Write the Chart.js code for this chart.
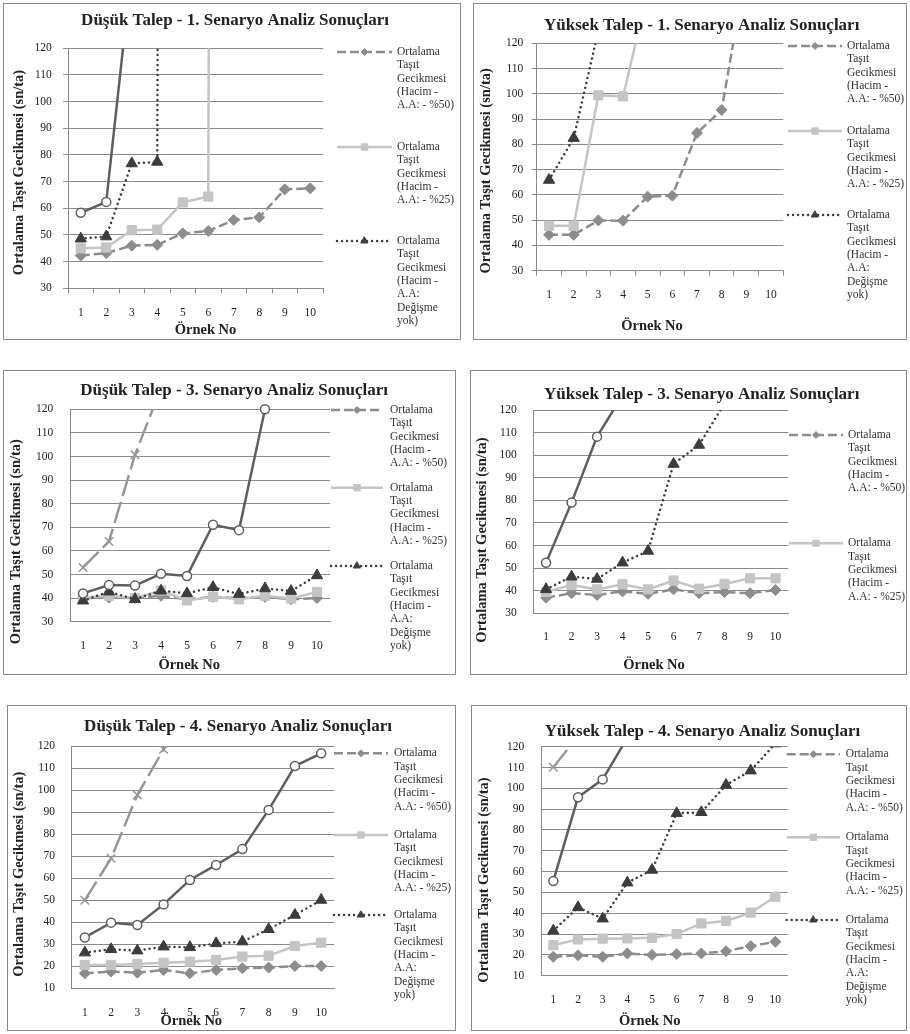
<!DOCTYPE html>
<html><head><meta charset="utf-8">
<script src="https://cdn.jsdelivr.net/npm/chart.js@4.4.1/dist/chart.umd.min.js"></script>
<style>
html,body{margin:0;padding:0;background:#fff;}
body{width:910px;height:1034px;position:relative;overflow:hidden;}
.panel{position:absolute;border:1px solid #8a8a8a;box-sizing:border-box;background:#fff;}
.panel canvas{position:absolute;left:0;top:0;}
</style></head><body>
<script>
// ---------- DATA ----------
const categories = ['1','2','3','4','5','6','7','8','9','10'];
const yTitleText = 'Ortalama Taşıt Gecikmesi (sn/ta)';
const xTitleText = 'Örnek No';
const chartTitles = [
  'Düşük Talep - 1. Senaryo Analiz Sonuçları',
  'Yüksek Talep - 1. Senaryo Analiz Sonuçları',
  'Düşük Talep - 3. Senaryo Analiz Sonuçları',
  'Yüksek Talep - 3. Senaryo Analiz Sonuçları',
  'Düşük Talep - 4. Senaryo Analiz Sonuçları',
  'Yüksek Talep - 4. Senaryo Analiz Sonuçları'
];
const legend50 = ['Ortalama','Taşıt','Gecikmesi','(Hacim -','A.A: - %50)'];
const legend25 = ['Ortalama','Taşıt','Gecikmesi','(Hacim -','A.A: - %25)'];
const legend0  = ['Ortalama','Taşıt','Gecikmesi','(Hacim -','A.A:','Değişme','yok)'];
const label50 = 'Ortalama Taşıt Gecikmesi (Hacim - A.A: - %50)';
const label25 = 'Ortalama Taşıt Gecikmesi (Hacim - A.A: - %25)';
const label0  = 'Ortalama Taşıt Gecikmesi (Hacim - A.A: Değişme yok)';

// Düşük Talep - 1
const d1_diamond  = [42.3, 43.2, 46, 46.3, 50.6, 51.5, 55.6, 56.6, 67.1, 67.5];
const d1_square   = [45, 45.3, 51.8, 52, 62.2, 64.4, 3000, null, null, null];
const d1_triangle = [48.6, 49.4, 76.8, 77.4, 3000, null, null, null, null, null];
const d1_circle   = [58.3, 62.4, 150, null, null, null, null, null, null, null];
// Yüksek Talep - 1
const y1_diamond  = [44.2, 44.2, 49.9, 49.8, 59.3, 59.7, 84.5, 93.6, 150, null];
const y1_square   = [47.8, 47.8, 99.4, 99, 140, null, null, null, null, null];
const y1_triangle = [65.9, 82.5, 125, null, null, null, null, null, null, null];
// Düşük Talep - 3
const d3_cross    = [53, 64, 100.7, 129, null, null, null, null, null, null];
const d3_circle   = [42, 45.5, 45.3, 50.3, 49.4, 71.1, 68.8, 120, null, null];
const d3_triangle = [38.9, 42.7, 39.5, 43.1, 42, 44.6, 41.7, 44.1, 43, 49.6];
const d3_square   = [40.3, 41, 40, 43.2, 39, 40.6, 39.5, 41, 39.8, 42.6];
const d3_diamond  = [40, 40.2, 40, 41, 39.5, 40.5, 40, 40.5, 39.5, 40];
// Yüksek Talep - 3
const y3_circle   = [52.4, 79, 108.2, 126.5, null, null, null, null, null, null];
const y3_triangle = [40.6, 46.2, 45.2, 52.4, 57.6, 96.1, 104.5, 123, null, null];
const y3_square   = [39.5, 42.5, 40.6, 42.8, 40.6, 44.5, 40.9, 43, 45.5, 45.5];
const y3_diamond  = [36.9, 38.9, 38.1, 39.7, 38.6, 40.6, 38.9, 39.4, 38.9, 40.3];
// Düşük Talep - 4
const d4_cross    = [50, 69, 97.8, 118.5, 140, null, null, null, null, null];
const d4_circle   = [33.1, 39.8, 38.7, 48.1, 59.2, 66, 73.2, 91, 110.9, 116.7];
const d4_triangle = [26.2, 27.7, 27.1, 28.9, 28.6, 30.4, 31.2, 36.8, 43.3, 50.1];
const d4_square   = [20.6, 20.6, 21, 21.6, 22.1, 22.9, 24.4, 24.8, 29.2, 30.7];
const d4_diamond  = [16.8, 17.6, 17.1, 18.3, 16.8, 18.3, 19.1, 19.4, 20.1, 20.1];
// Yüksek Talep - 4
const y4_cross    = [110.1, 125, null, null, null, null, null, null, null, null];
const y4_circle   = [55.5, 95.7, 104.3, 124.3, null, null, null, null, null, null];
const y4_triangle = [31.6, 42.8, 37.4, 54.7, 60.8, 88, 88.5, 101.6, 108.5, 121.5];
const y4_square   = [24.7, 27.4, 27.8, 27.9, 28.2, 30, 35.1, 36.3, 40.3, 47.9];
const y4_diamond  = [19.1, 19.8, 19.1, 20.7, 20, 20.4, 20.7, 21.8, 24.2, 26.3];

// ---------- STYLES ----------
const FAMILY = '"Liberation Serif", "Times New Roman", serif';
const TEXT = '#222222';
const GRID = '#8a8a8a';
const styles = {
  diamond:  {color:'#8c8c8c', dash:[9,4],  cap:'butt',  ps:'rectRot',  r:5.5, lr:3.5, fill:'#8c8c8c', border:'#8c8c8c', bw:1},
  square:   {color:'#c4c4c4', dash:[],     cap:'butt',  ps:'rect',     r:6.5, lr:4.5, fill:'#c4c4c4', border:'#c4c4c4', bw:1},
  triangle: {color:'#3c3c3c', dash:[0.01,5], cap:'round', ps:'triangle', r:6.5, lr:4, fill:'#3c3c3c', border:'#3c3c3c', bw:1},
  circle:   {color:'#5e5e5e', dash:[],     cap:'butt',  ps:'circle',   r:4.5, lr:4, fill:'#ffffff', border:'#5e5e5e', bw:1.5},
  cross:    {color:'#969696', dash:[22,6], cap:'butt',  ps:'crossRot', r:6,   lr:5, fill:'#969696', border:'#969696', bw:1.5}
};

// ---------- PANEL LAYOUT (page coordinates) ----------
const panels = [
  {box:[3,3,458,337], area:[68,48.3,323,288.3], yr:[30,120], title:[235,21], yT:[19,172.5], xT:[205.5,330], tickY:313, yGap:16.3, marks:true,
   leg:{x1:337,x2:392,tx:397,ys:[52,147,241],lh:13.3},
   legend:[['diamond',legend50],['square',legend25],['triangle',legend0]],
   series:[['circle',d1_circle,'Seri 4'],['triangle',d1_triangle,label0],['square',d1_square,label25],['diamond',d1_diamond,label50]]},
  {box:[473,3,434,337], area:[536.7,43.3,783.3,270.7], yr:[30,120], title:[701.7,26], yT:[485.8,170.8], xT:[652,326], tickY:295, yGap:13.4, marks:true,
   leg:{x1:788,x2:842,tx:847,ys:[46,131,215],lh:13.3},
   legend:[['diamond',legend50],['square',legend25],['triangle',legend0]],
   series:[['triangle',y1_triangle,label0],['square',y1_square,label25],['diamond',y1_diamond,label50]]},
  {box:[3,370,453,305], area:[70,409.3,330,621.7], yr:[30,120], title:[234.2,390.7], yT:[15.8,541.7], xT:[189.2,665], tickY:646, yGap:16.7, marks:false,
   leg:{x1:331,x2:383,tx:390,ys:[410,487.7,566],lh:13.3},
   legend:[['diamond',legend50],['square',legend25],['triangle',legend0]],
   series:[['cross',d3_cross,'Seri 5'],['circle',d3_circle,'Seri 4',7],['triangle',d3_triangle,label0],['square',d3_square,label25],['diamond',d3_diamond,label50]]},
  {box:[470,370,437,305], area:[533.3,410,788.3,613.3], yr:[30,120], title:[701.7,395], yT:[482.5,540], xT:[654,665], tickY:637.3, yGap:16.6, marks:false,
   leg:{x1:789,x2:843,tx:848,ys:[435,543.3],lh:13.3},
   legend:[['diamond',legend50],['square',legend25]],
   series:[['circle',y3_circle,'Seri 4'],['triangle',y3_triangle,label0],['square',y3_square,label25],['diamond',y3_diamond,label50]]},
  {box:[7,705,449,326], area:[71.7,746,334.3,988.3], yr:[10,120], title:[238,726.7], yT:[19,874.2], xT:[191.3,1021.7], tickY:1012.7, yGap:16.7, marks:false,
   leg:{x1:334,x2:388,tx:394,ys:[753.3,835,915],lh:13.3},
   legend:[['diamond',legend50],['square',legend25],['triangle',legend0]],
   series:[['cross',d4_cross,'Seri 5'],['circle',d4_circle,'Seri 4'],['triangle',d4_triangle,label0],['square',d4_square,label25],['diamond',d4_diamond,label50]]},
  {box:[471,705,436,326], area:[541,746.7,787.7,975.7], yr:[10,120], title:[702.5,731.7], yT:[484,880], xT:[649.7,1021.7], tickY:1000, yGap:16.7, marks:false,
   leg:{x1:786.7,x2:840,tx:845.7,ys:[754.3,837.3,920],lh:13.3},
   legend:[['diamond',legend50],['square',legend25],['triangle',legend0]],
   series:[['cross',y4_cross,'Seri 5'],['circle',y4_circle,'Seri 4'],['triangle',y4_triangle,label0],['square',y4_square,label25],['diamond',y4_diamond,label50]]}
];

const decorPlugin = {
  id: 'decor',
  afterDraw(chart) {
    const i = +chart.canvas.dataset.idx;
    const p = panels[i];
    const ox = p.box[0] + 1, oy = p.box[1] + 1;
    const ctx = chart.ctx;
    ctx.save();
    ctx.fillStyle = TEXT;
    ctx.textAlign = 'center';
    ctx.textBaseline = 'middle';
    ctx.font = 'bold 17px ' + FAMILY;
    ctx.fillText(chartTitles[i], p.title[0] - ox, p.title[1] - oy);
    ctx.font = 'bold 14.5px ' + FAMILY;
    ctx.fillText(xTitleText, p.xT[0] - ox, p.xT[1] - oy);
    ctx.save();
    ctx.translate(p.yT[0] - ox, p.yT[1] - oy);
    ctx.rotate(-Math.PI / 2);
    ctx.fillText(yTitleText, 0, 0);
    ctx.restore();
    // legend
    ctx.font = '11.5px ' + FAMILY;
    ctx.textAlign = 'left';
    p.legend.forEach((entry, k) => {
      const st = styles[entry[0]];
      const y = p.leg.ys[k] - oy;
      const x1 = p.leg.x1 - ox, x2 = p.leg.x2 - ox;
      ctx.save();
      ctx.strokeStyle = st.color;
      ctx.lineWidth = 2.5;
      ctx.lineCap = st.cap;
      ctx.setLineDash(st.dash);
      ctx.beginPath(); ctx.moveTo(x1, y); ctx.lineTo(x2, y); ctx.stroke();
      ctx.setLineDash([]);
      ctx.fillStyle = st.fill; ctx.strokeStyle = st.border; ctx.lineWidth = st.bw;
      Chart.helpers.drawPoint(ctx, {pointStyle: st.ps, radius: st.lr, borderWidth: st.bw, rotation: 0}, (x1 + x2) / 2, y);
      ctx.restore();
      ctx.fillStyle = '#333333';
      entry[1].forEach((t, j) => ctx.fillText(t, p.leg.tx - ox, y + j * p.leg.lh));
    });
    ctx.restore();
  }
};

panels.forEach((p, i) => {
  const div = document.createElement('div');
  div.className = 'panel';
  div.style.left = p.box[0] + 'px'; div.style.top = p.box[1] + 'px';
  div.style.width = p.box[2] + 'px'; div.style.height = p.box[3] + 'px';
  const W = p.box[2] - 2, H = p.box[3] - 2;
  const ox = p.box[0] + 1, oy = p.box[1] + 1;
  const cv = document.createElement('canvas');
  cv.width = W; cv.height = H;
  cv.style.width = W + 'px'; cv.style.height = H + 'px';
  cv.dataset.idx = i;
  div.appendChild(cv);
  document.body.appendChild(div);

  const aL = p.area[0] - ox, aT = p.area[1] - oy, aR = p.area[2] - ox, aB = p.area[3] - oy;
  const tl = p.marks ? 5 : 0;
  const datasets = p.series.map(s => {
    const st = styles[s[0]];
    const ds = {
      label: s[2], data: s[1],
      borderColor: st.color, backgroundColor: st.fill,
      borderWidth: 2.5, borderDash: st.dash, borderCapStyle: st.cap,
      pointStyle: st.ps, pointRadius: st.r, pointHoverRadius: st.r,
      pointBackgroundColor: st.fill, pointBorderColor: st.border, pointBorderWidth: st.bw,
      tension: 0, fill: false, spanGaps: false
    };
    if (s[3] !== undefined) ds.clip = s[3];
    return ds;
  });
  new Chart(cv, {
    type: 'line',
    data: { labels: categories, datasets },
    plugins: [decorPlugin],
    options: {
      responsive: false, animation: false, events: [],
      layout: { padding: { left: 0, top: aT, right: W - aR, bottom: 0 } },
      plugins: { legend: { display: false }, title: { display: false }, tooltip: { enabled: false } },
      scales: {
        x: {
          type: 'category', offset: true,
          grid: { display: true, drawOnChartArea: false, drawTicks: p.marks, tickLength: 5, color: GRID, offset: true },
          border: { display: true, color: GRID, width: 1 },
          ticks: { color: TEXT, font: { size: 11.5, family: FAMILY }, padding: (p.tickY - p.area[3]) - tl - 6.9, maxRotation: 0, autoSkip: false },
          afterFit: s => { s.height = H - aB; }
        },
        y: {
          min: p.yr[0], max: p.yr[1],
          grid: { color: GRID, lineWidth: 1, drawTicks: p.marks, tickLength: 5 },
          border: { display: true, color: GRID, width: 1 },
          ticks: { stepSize: 10, color: TEXT, font: { size: 11.5, family: FAMILY }, padding: p.yGap - tl },
          afterFit: s => { s.width = aL; }
        }
      }
    }
  });
});
</script>
</body></html>
